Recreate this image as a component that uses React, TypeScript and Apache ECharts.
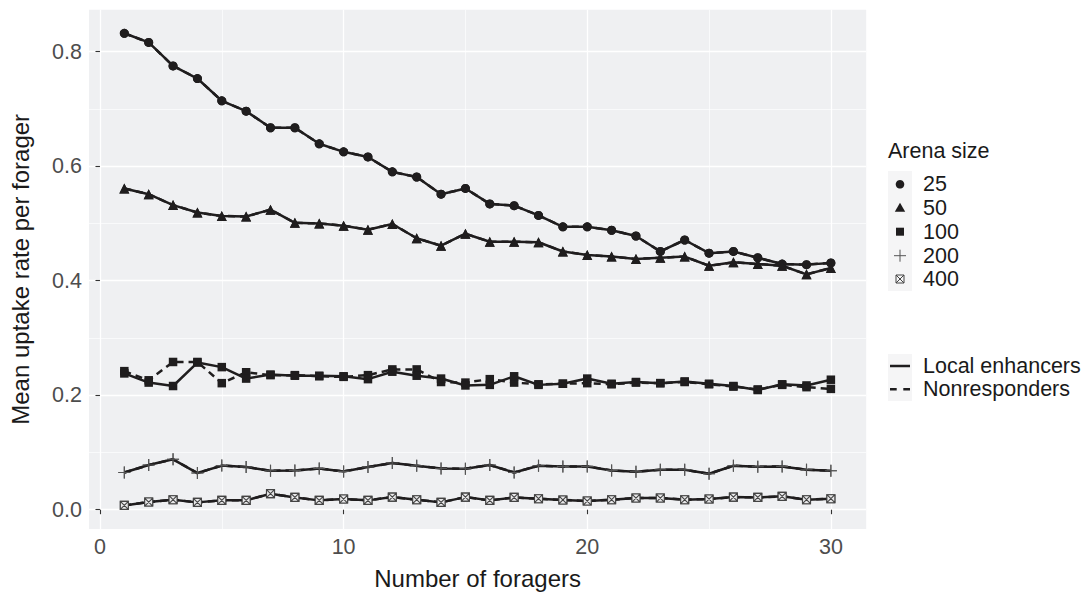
import React, { useEffect, useRef } from "react";
import * as echarts from "echarts";

// Number of foragers (x) shared by every curve
const foragers: number[] = Array.from({ length: 30 }, (_, i) => i + 1);

// Mean uptake rate per forager, local enhancers, by arena size
const local25 = [0.832, 0.816, 0.775, 0.753, 0.714, 0.696, 0.667, 0.667, 0.639, 0.625, 0.616, 0.59, 0.581, 0.551, 0.561, 0.534, 0.531, 0.514, 0.494, 0.494, 0.488, 0.478, 0.451, 0.471, 0.448, 0.451, 0.44, 0.429, 0.428, 0.431];
const local50 = [0.561, 0.551, 0.532, 0.519, 0.513, 0.512, 0.524, 0.501, 0.5, 0.496, 0.489, 0.499, 0.474, 0.461, 0.482, 0.468, 0.468, 0.467, 0.451, 0.445, 0.442, 0.438, 0.44, 0.442, 0.426, 0.432, 0.429, 0.426, 0.411, 0.422];
const local100 = [0.238, 0.222, 0.216, 0.257, 0.249, 0.229, 0.236, 0.234, 0.234, 0.233, 0.228, 0.241, 0.234, 0.229, 0.217, 0.218, 0.233, 0.218, 0.22, 0.229, 0.22, 0.223, 0.221, 0.224, 0.22, 0.216, 0.209, 0.219, 0.217, 0.227];
const local200 = [0.065, 0.078, 0.088, 0.064, 0.077, 0.0745, 0.068, 0.0686, 0.072, 0.0669, 0.0745, 0.0815, 0.0768, 0.072, 0.0716, 0.078, 0.065, 0.0768, 0.0756, 0.0756, 0.0686, 0.0663, 0.0698, 0.0698, 0.0628, 0.0768, 0.075, 0.0756, 0.0698, 0.068];
const local400 = [0.0075, 0.0134, 0.0175, 0.0128, 0.0163, 0.0163, 0.028, 0.0215, 0.0163, 0.0186, 0.0163, 0.022, 0.0175, 0.0128, 0.022, 0.0163, 0.0215, 0.0192, 0.017, 0.0151, 0.0175, 0.0204, 0.0204, 0.0175, 0.0186, 0.022, 0.0215, 0.0233, 0.0175, 0.0192];

// Nonresponders: only arena size 100 separates visibly from the local enhancers
const non25 = local25;
const non50 = local50;
const non100 = [0.242, 0.226, 0.258, 0.258, 0.221, 0.24, 0.235, 0.235, 0.233, 0.232, 0.235, 0.245, 0.245, 0.223, 0.222, 0.228, 0.222, 0.219, 0.22, 0.221, 0.219, 0.222, 0.221, 0.223, 0.219, 0.215, 0.21, 0.218, 0.214, 0.211];
const non200 = local200;
const non400 = local400;

const arenaSizes = ["25", "50", "100", "200", "400"];
const xTicks = [0, 10, 20, 30];
const xMinorTicks = [5, 15, 25];
const yTicks = [0, 0.2, 0.4, 0.6, 0.8];
const yMinorTicks = [0.1, 0.3, 0.5, 0.7];

const FONT = "'Liberation Sans', Arial, Helvetica, sans-serif";
const INK = "#1f1d1e";
const PANEL = "#EFF0F2";

const PLUS = "path://M5 0V10M0 5H10";
const BOXCROSS = "path://M0 0H10V10H0ZM0 0L10 10M10 0L0 10";

type Marker = { symbol: string; size: number; itemStyle: any };
const markers: Marker[] = [
  { symbol: "circle", size: 9, itemStyle: { color: INK } },
  { symbol: "triangle", size: 10, itemStyle: { color: INK } },
  { symbol: "rect", size: 8.5, itemStyle: { color: INK } },
  { symbol: PLUS, size: 12, itemStyle: { color: "rgba(0,0,0,0)", borderColor: "#555", borderWidth: 1.1 } },
  { symbol: BOXCROSS, size: 8, itemStyle: { color: "#e9e9ea", borderColor: "#444", borderWidth: 1.1 } },
];

const localSets = [local25, local50, local100, local200, local400];
const nonSets = [non25, non50, non100, non200, non400];

function makeSeries(values: number[], idx: number, dashed: boolean) {
  const m = markers[idx];
  return {
    type: "line",
    name: `${dashed ? "Nonresponders" : "Local enhancers"} ${arenaSizes[idx]}`,
    data: foragers.map((x, i) => [x, values[i]]),
    xAxisIndex: 0,
    yAxisIndex: 0,
    symbol: m.symbol,
    symbolSize: m.size,
    showSymbol: true,
    itemStyle: m.itemStyle,
    lineStyle: { color: INK, width: 2.5, type: dashed ? [7, 5] : "solid" },
    z: dashed ? 2 : 3,
    silent: true,
  };
}

export default function App() {
  const ref = useRef<HTMLDivElement>(null);

  useEffect(() => {
    if (!ref.current) return;
    const chart = echarts.init(ref.current, undefined, { renderer: "svg" });

    const series: any[] = [];
    nonSets.forEach((v, i) => series.push(makeSeries(v, i, true)));
    localSets.forEach((v, i) => series.push(makeSeries(v, i, false)));

    const legendRowY = [184.3, 207.7, 231.7, 255.7, 279];
    const legendText = (text: string, x: number, y: number) => ({
      type: "text",
      x,
      y,
      style: { text, fill: "#1a1a1a", font: `21.5px ${FONT}`, textAlign: "left", textVerticalAlign: "middle" },
    });

    const graphic: any[] = [
      legendText("Arena size", 888, 151),
      { type: "rect", shape: { x: 888, y: 171, width: 24, height: 120 }, style: { fill: "#F5F5F6" } },
      { type: "circle", shape: { cx: 900, cy: legendRowY[0], r: 4.3 }, style: { fill: INK } },
      { type: "polygon", shape: { points: [[900, legendRowY[1] - 5], [905.2, legendRowY[1] + 4], [894.8, legendRowY[1] + 4]] }, style: { fill: INK } },
      { type: "rect", shape: { x: 896, y: legendRowY[2] - 4, width: 8, height: 8 }, style: { fill: INK } },
      { type: "line", shape: { x1: 894, y1: legendRowY[3], x2: 906, y2: legendRowY[3] }, style: { stroke: "#555", lineWidth: 1 } },
      { type: "line", shape: { x1: 900, y1: legendRowY[3] - 6, x2: 900, y2: legendRowY[3] + 6 }, style: { stroke: "#555", lineWidth: 1 } },
      { type: "rect", shape: { x: 896, y: legendRowY[4] - 4, width: 8, height: 8 }, style: { fill: "none", stroke: "#444", lineWidth: 1 } },
      { type: "line", shape: { x1: 896, y1: legendRowY[4] - 4, x2: 904, y2: legendRowY[4] + 4 }, style: { stroke: "#444", lineWidth: 1 } },
      { type: "line", shape: { x1: 904, y1: legendRowY[4] - 4, x2: 896, y2: legendRowY[4] + 4 }, style: { stroke: "#444", lineWidth: 1 } },
      ...arenaSizes.map((s, i) => legendText(s, 923, legendRowY[i])),
      { type: "rect", shape: { x: 888, y: 354, width: 24, height: 47 }, style: { fill: "#F5F5F6" } },
      { type: "line", shape: { x1: 890, y1: 366, x2: 910, y2: 366 }, style: { stroke: INK, lineWidth: 2.5 } },
      { type: "line", shape: { x1: 890, y1: 389.3, x2: 910, y2: 389.3 }, style: { stroke: INK, lineWidth: 2.5, lineDash: [6.7, 6.6] } },
      legendText("Local enhancers", 923, 366),
      legendText("Nonresponders", 923, 389.3),
    ];

    const xMin = -0.45, xMax = 31.45, yMin = -0.0337, yMax = 0.8732;

    chart.setOption({
      animation: false,
      backgroundColor: "#ffffff",
      grid: {
        left: 85,
        top: 9.7,
        width: 781.2,
        height: 519.6,
        show: true,
        backgroundColor: PANEL,
        borderWidth: 0,
        containLabel: false,
      },
      xAxis: [
        {
          type: "value",
          min: xMin,
          max: xMax,
          name: "Number of foragers",
          nameLocation: "middle",
          nameGap: 37,
          nameTextStyle: { fontFamily: FONT, fontSize: 24, color: "#1a1a1a" },
          axisLine: { show: false },
          axisTick: { show: true, length: 4.5, customValues: xTicks, lineStyle: { color: "#333", width: 1.1 } },
          axisLabel: { customValues: xTicks, color: "#4d4d4d", fontFamily: FONT, fontSize: 21.5, margin: 7 },
          splitLine: { show: true, lineStyle: { color: "#ffffff", width: 1.3 } },
        },
        {
          type: "value",
          min: xMin,
          max: xMax,
          gridIndex: 0,
          axisLine: { show: false },
          axisTick: { show: false, customValues: xMinorTicks },
          axisLabel: { show: false, customValues: xMinorTicks },
          splitLine: { show: true, lineStyle: { color: "#ffffff", width: 0.65 } },
        },
      ],
      yAxis: [
        {
          type: "value",
          min: yMin,
          max: yMax,
          name: "Mean uptake rate per forager",
          nameLocation: "middle",
          nameGap: 57,
          nameTextStyle: { fontFamily: FONT, fontSize: 24, color: "#1a1a1a" },
          axisLine: { show: false },
          axisTick: { show: true, length: 4.5, customValues: yTicks, lineStyle: { color: "#333", width: 1.1 } },
          axisLabel: {
            customValues: yTicks,
            color: "#4d4d4d",
            fontFamily: FONT,
            fontSize: 21.5,
            margin: 7,
            formatter: (v: number) => v.toFixed(1),
          },
          splitLine: { show: true, lineStyle: { color: "#ffffff", width: 1.3 } },
        },
        {
          type: "value",
          min: yMin,
          max: yMax,
          gridIndex: 0,
          axisLine: { show: false },
          axisTick: { show: false, customValues: yMinorTicks },
          axisLabel: { show: false, customValues: yMinorTicks },
          splitLine: { show: true, lineStyle: { color: "#ffffff", width: 0.65 } },
        },
      ],
      series,
      graphic,
    });

    return () => chart.dispose();
  }, []);

  return (
    <div
      ref={ref}
      style={{ position: "fixed", left: 0, top: 0, width: 1092, height: 595, background: "#fff" }}
    />
  );
}
